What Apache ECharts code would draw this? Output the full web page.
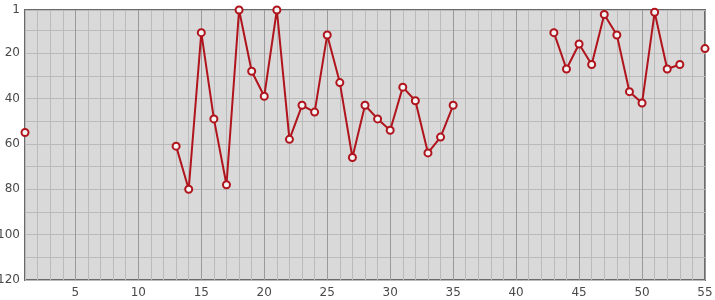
<!DOCTYPE html>
<html>
<head>
<meta charset="utf-8">
<script src="https://cdn.jsdelivr.net/npm/echarts@6/dist/echarts.min.js"></script>
<style>html,body{margin:0;padding:0;background:#fff;}#c{width:715px;height:300px;}</style>
</head>
<body>
<div id="c"></div>
<script>
const xValues = [1,2,3,4,5,6,7,8,9,10,11,12,13,14,15,16,17,18,19,20,21,22,23,24,25,26,27,28,29,30,31,32,33,34,35,36,37,38,39,40,41,42,43,44,45,46,47,48,49,50,51,52,53,54,55];
const rankValues = [55,null,null,null,null,null,null,null,null,null,null,null,61,80,11,49,78,1,28,39,1,58,43,46,12,33,66,43,49,54,35,41,64,57,43,null,null,null,null,null,null,null,11,27,16,25,3,12,37,42,2,27,25,null,18];
const xLabelValues = [5,10,15,20,25,30,35,40,45,50,55];
const yLabelValues = [1,20,40,60,80,100,120];
const yGridValues = [1,10,20,30,40,50,60,70,80,90,100,110,120];

const chart = echarts.init(document.getElementById('c'), null, {renderer:'canvas'});
const seriesData = xValues.map((x,i) => [x, rankValues[i] == null ? '-' : rankValues[i]]);
chart.setOption({
  animation: false,
  grid: {left: 25, right: 10, top: 10, bottom: 20, show: true, backgroundColor: '#d9d9d9', borderColor: '#6a6a6a', borderWidth: 2, containLabel: false, outerBoundsMode: 'none'},
  xAxis: {
    type: 'value', min: 1, max: 55,
    axisLine: {show: false},
    axisTick: {show: false, customValues: xValues},
    axisLabel: {customValues: xLabelValues, color: '#4a4a4a', fontSize: 12, fontFamily: 'DejaVu Sans', margin: 7},
    splitLine: {show: true, lineStyle: {color: ['#bababa','#bababa','#bababa','#bababa','#9a9a9a'], width: 1}}
  },
  yAxis: {
    type: 'value', min: 1, max: 120, inverse: true,
    axisLine: {show: false},
    axisTick: {show: false, customValues: yGridValues},
    axisLabel: {customValues: yLabelValues, color: '#4a4a4a', fontSize: 12, fontFamily: 'DejaVu Sans', margin: 5},
    splitLine: {show: true, lineStyle: {color: '#bababa', width: 1}}
  },
  series: [{
    type: 'line',
    data: seriesData,
    connectNulls: false,
    clip: false,
    symbol: 'circle',
    symbolSize: 7,
    showAllSymbol: true,
    lineStyle: {color: '#b0141c', width: 2},
    itemStyle: {color: '#f4f4f4', borderColor: '#b0141c', borderWidth: 2}
  }]
});
</script>
</body>
</html>
